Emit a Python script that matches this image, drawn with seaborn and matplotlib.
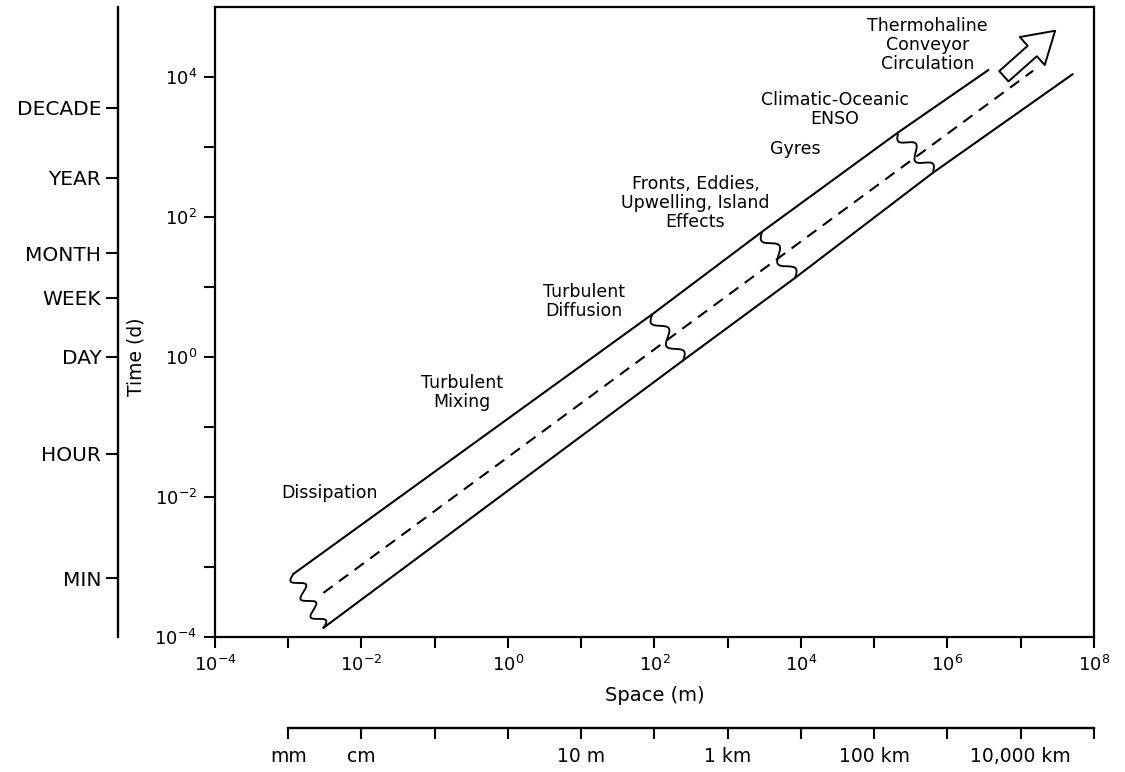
import numpy as np
import pandas as pd
import matplotlib
matplotlib.use("Agg")
import matplotlib.pyplot as plt
import seaborn as sns
from matplotlib.ticker import FixedLocator, FixedFormatter, NullLocator

# ---------------- data (log10 values) ----------------
space_exponents = list(range(-4, 9))          # main x ticks: 10^-4 .. 10^8
time_exponents = list(range(-4, 5))           # main y ticks: 10^-4 .. 10^4

time_names = ["MIN", "HOUR", "DAY", "WEEK", "MONTH", "YEAR", "DECADE"]
time_days = [1 / 1440, 1 / 24, 1, 7, 30.4, 365.25, 3652.5]

length_names = ["mm", "cm", "", "", "10 m", "", "1 km", "", "100 km", "", "10,000 km", ""]
length_m = [1e-3, 1e-2, 1e-1, 1e0, 1e1, 1e2, 1e3, 1e4, 1e5, 1e6, 1e7, 1e8]

# band edges (log10 space, log10 time); vertices are where the wavy breaks sit
upper_log_x = [-2.93, 1.97, 3.47, 5.33, 6.56]
upper_log_y = [-3.10, 0.61, 1.79, 3.21, 4.10]
lower_log_x = [-2.52, 2.39, 3.92, 5.80, 7.71]
lower_log_y = [-3.87, -0.05, 1.13, 2.63, 4.04]
center_log_x = [-2.52, 7.17]
center_log_y = [-3.37, 4.09]
wave_cycles = [3.0, 2.0, 2.0, 2.0]

arrow_tail_log = (6.77, 4.01)
arrow_tip_log = (7.47, 4.66)

process_labels = ["Dissipation", "Turbulent\nMixing", "Turbulent\nDiffusion",
                  "Fronts, Eddies,\nUpwelling, Island\nEffects", "Gyres",
                  "Climatic-Oceanic\nENSO", "Thermohaline\nConveyor\nCirculation"]
label_log_x = [-2.43, -0.63, 1.04, 2.56, 3.92, 4.46, 5.73]
label_log_y = [-1.94, -0.51, 0.79, 2.20, 2.97, 3.54, 4.46]

# ---------------- style ----------------
sns.set_theme(style="ticks", rc={
    "axes.edgecolor": "black", "xtick.color": "black", "ytick.color": "black",
    "text.color": "black", "axes.labelcolor": "black",
})
plt.rcParams["font.family"] = ["DejaVu Sans"]
plt.rcParams["mathtext.default"] = "regular"

fig = plt.figure(figsize=(11.25, 7.72), dpi=100)
ax = fig.add_axes([0.1911, 0.1749, 0.7813, 0.8161])
ax.set_xscale("log")
ax.set_yscale("log")
ax.set_xlim(1e-4, 1e8)
ax.set_ylim(1e-4, 1e5)

LW = 1.5
band = pd.DataFrame({
    "space": np.power(10.0, upper_log_x + lower_log_x + center_log_x),
    "time": np.power(10.0, upper_log_y + lower_log_y + center_log_y),
    "edge": ["upper"] * len(upper_log_x) + ["lower"] * len(lower_log_x) + ["center"] * len(center_log_x),
})
for name in ["upper", "lower"]:
    sns.lineplot(data=band[band.edge == name], x="space", y="time", ax=ax,
                 color="black", lw=LW, sort=False, estimator=None)
sns.lineplot(data=band[band.edge == "center"], x="space", y="time", ax=ax,
             color="black", lw=LW, sort=False, estimator=None)
ax.lines[-1].set_linestyle((0, (5.5, 3.8)))

# wavy break lines between upper and lower edges (drawn in display space)
fig.canvas.draw()
to_disp = ax.transData
to_data = ax.transData.inverted()
for i, cyc in enumerate(wave_cycles):
    p0 = to_disp.transform((10 ** upper_log_x[i], 10 ** upper_log_y[i]))
    p1 = to_disp.transform((10 ** lower_log_x[i], 10 ** lower_log_y[i]))
    d = p1 - p0
    L = np.hypot(*d)
    perp = np.array([d[1], -d[0]]) / L
    t = np.linspace(0, 1, 300)
    amp = 6.0
    pts = p0[None, :] + t[:, None] * d[None, :] + (amp * np.sin(2 * np.pi * cyc * t))[:, None] * perp[None, :]
    dpts = to_data.transform(pts)
    ax.plot(dpts[:, 0], dpts[:, 1], color="black", lw=LW * 0.9)

# hollow arrow
ax.annotate("", xy=(10 ** arrow_tip_log[0], 10 ** arrow_tip_log[1]),
            xytext=(10 ** arrow_tail_log[0], 10 ** arrow_tail_log[1]),
            arrowprops=dict(arrowstyle="simple,head_length=1.1,head_width=1.35,tail_width=0.5",
                            mutation_scale=20, fc="white", ec="black", lw=1.4,
                            shrinkA=0, shrinkB=0))

for s, lx, ly in zip(process_labels, label_log_x, label_log_y):
    ax.text(10 ** lx, 10 ** ly, s, ha="center", va="center", fontsize=12.5,
            linespacing=1.08, multialignment="center")

# main axes ticks
ax.xaxis.set_major_locator(FixedLocator([10.0 ** e for e in space_exponents]))
ax.xaxis.set_major_formatter(FixedFormatter(
    [f"$10^{{{e}}}$" if e % 2 == 0 else "" for e in space_exponents]))
ax.xaxis.set_minor_locator(NullLocator())
ax.yaxis.set_major_locator(FixedLocator([10.0 ** e for e in time_exponents]))
ax.yaxis.set_major_formatter(FixedFormatter(
    [f"$10^{{{e}}}$" if e % 2 == 0 else "" for e in time_exponents]))
ax.yaxis.set_minor_locator(NullLocator())
ax.tick_params(axis="both", which="major", direction="out", length=8, width=1.5,
               labelsize=13, pad=5)
for sp in ax.spines.values():
    sp.set_linewidth(1.6)
    sp.set_visible(True)

ax.set_xlabel("Space (m)", fontsize=14, labelpad=8)
ax.set_ylabel("Time (d)", fontsize=13.5)
ax.yaxis.set_label_coords(-0.0796, 0.444)

# left time-unit axis
secy = ax.secondary_yaxis(-0.1104)
secy.yaxis.set_major_locator(FixedLocator(time_days))
secy.yaxis.set_major_formatter(FixedFormatter(time_names))
secy.yaxis.set_minor_locator(NullLocator())
secy.tick_params(axis="y", which="major", direction="out", length=9, width=1.5,
                 labelsize=14.5, pad=3)
secy.spines["left"].set_linewidth(1.7)

# bottom length-unit axis
secx = ax.secondary_xaxis(-0.1444)
secx.xaxis.set_major_locator(FixedLocator(length_m))
secx.xaxis.set_major_formatter(FixedFormatter(length_names))
secx.xaxis.set_minor_locator(NullLocator())
secx.tick_params(axis="x", which="major", direction="out", length=8, width=1.5,
                 labelsize=13.5, pad=6)
secx.spines["bottom"].set_linewidth(1.7)
secx.spines["bottom"].set_bounds(1e-3, 1e8)

fig.savefig("out.png", dpi=100, facecolor="white")
